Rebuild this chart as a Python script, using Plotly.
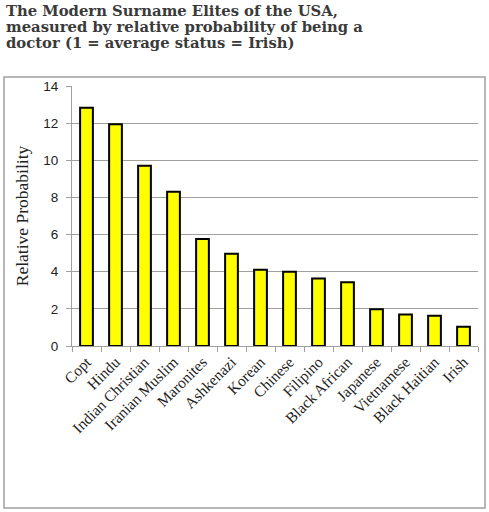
import plotly.graph_objects as go

# values
groups = ["Copt", "Hindu", "Indian Christian", "Iranian Muslim", "Maronites",
          "Ashkenazi", "Korean", "Chinese", "Filipino", "Black African",
          "Japanese", "Vietnamese", "Black Haitian", "Irish"]
rel_prob = [12.83, 11.94, 9.71, 8.31, 5.76, 4.97, 4.11, 4.0, 3.63, 3.43,
            1.98, 1.69, 1.63, 1.04]
y_ticks = [0, 2, 4, 6, 8, 10, 12, 14]

title_lines = ["The Modern Surname Elites of the USA,",
               "measured by relative probability of being a",
               "doctor (1 = average status = Irish)"]

W, H = 489, 512
L, R, T, B = 72, 11, 86, 166   # plot area 72..478 x 86..346

def px_x(p):
    return (p - L) / (W - L - R)

def px_y(p):
    return (H - B - p) / (H - T - B)

fig = go.Figure(go.Bar(
    x=groups, y=rel_prob,
    marker_color='#ffff00',
    marker_line_color='black',
    marker_line_width=2,
))

fig.update_layout(
    width=W, height=H,
    margin=dict(l=L, r=R, t=T, b=B),
    paper_bgcolor='white', plot_bgcolor='white',
    bargap=0.56,
    showlegend=False,
)

fig.update_xaxes(
    showline=True, linecolor='#a0a0a0', linewidth=1,
    ticks='outside', tickson='boundaries', ticklen=5, tickcolor='#a0a0a0',
    tickangle=-45,
    tickfont=dict(family='Liberation Serif', size=15.5, color='#222222'),
    showgrid=False,
)

fig.update_yaxes(
    range=[0, 14], tickvals=y_ticks,
    showline=True, linecolor='#a0a0a0', linewidth=1,
    ticks='outside', ticklen=5, tickcolor='#a0a0a0',
    ticklabelstandoff=5,
    tickfont=dict(family='Liberation Sans', size=13.5, color='#222222'),
    showgrid=True, gridcolor='#a0a0a0', gridwidth=1,
    zeroline=False,
    title=dict(text='Relative Probability', standoff=10,
               font=dict(family='Liberation Serif', size=17.5, color='#222222')),
)

# outer frame around the chart
fig.add_shape(type='rect', xref='paper', yref='paper',
              x0=px_x(4), x1=px_x(485), y0=px_y(508), y1=px_y(77),
              line=dict(color='#a0a0a0', width=1.5))

for i, line in enumerate(title_lines):
    fig.add_annotation(
        text='<b>' + line + '</b>', xref='paper', yref='paper',
        x=px_x(4), y=px_y(0 + 16 * i), xanchor='left', yanchor='top',
        showarrow=False,
        font=dict(family='DejaVu Serif', size=14.8, color='#3a3a3a'),
    )

# page body has a default 8px margin, drop it so the chart sits at 0,0
fig.write_html("out.html", config={'displayModeBar': False},
               post_script="document.body.style.margin='0';")
